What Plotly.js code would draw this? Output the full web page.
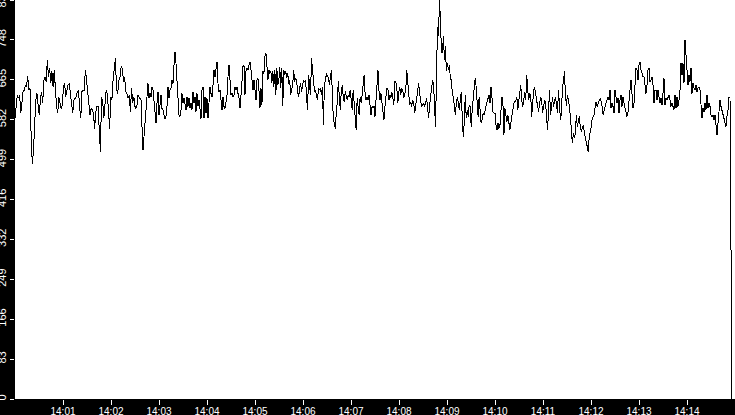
<!DOCTYPE html>
<html>
<head>
<meta charset="utf-8">
<script src="https://cdn.plot.ly/plotly-3.0.1.min.js"></script>
<style>
html,body{margin:0;padding:0;background:#000;}
#chart{width:735px;height:415px;}
#chart path.js-line{shape-rendering:crispEdges;}
</style>
</head>
<body>
<div id="chart"></div>
<script>
// Readings, in six consecutive 2.5-minute windows starting at 14:00:00
const seg1 = [585,610,634,627,634,596,623,641,644,653,651,674,644,648,547,491,516,582,623,637,617,592,623,641,617,665,672,662,706,672,690,658,683,651,686,644,610,596,630,617,606,613,651,658,630,644,655,658,634,623,596,623,627,630,641,644,610,585,641,644,644,686,665,637,610,592,606,603,596,564,599,610,610,561,516,630,620,585,627,644,637,596,564,630,623,665,690,710,648,637,665,672,693,690,662,672,641,637,627,634,599,648,617,630];
const seg2 = [610,606,613,634,630,627,623,568,519,547,575,606,641,658,627,637,630,651,644,623,592,575,617,641,592,623,634,606,603,592,585,589,610,651,627,644,648,665,658,696,724,700,662,617,592,589,603,637,617,627,613,603,630,610,627,606,617,603,641,617,630,599,637,610,623,603,585,644,651,585,630,596,627,585,630,651,637,630,655,686,672,693,703,658,641,644,623,603,630,610,606,627,634,672,696,665,634,637,630,634,651,644,651,637,627,606,627,662,693,696,634,683,690,686,696,703,686,662,644,665];
const seg3 = [648,623,665,669,644,606,648,613,683,679,714,721,696,665,686,679,683,658,683,651,686,634,690,655,662,693,648,690,610,686,676,683,669,679,658,665,634,644,655,685,662,669,662,641,630,648,658,641,658,665,662,665,630,603,676,655,634,710,683,655,641,644,634,623,648,644,648,634,651,571,658,662,679,672,669,655,672,686,637,582,575,564,599,620,662,623,603,641,655,630,620,641,630,623,634,630,644,613,603,644,610,589,561,627,603,592,630,617,634,655,676,637,623,630,623,634,613,592,610,606,610];
const seg4 = [589,623,665,686,644,623,637,617,592,582,610,630,648,648,623,634,627,641,630,613,662,662,648,617,641,651,634,648,644,627,637,644,686,665,641,613,620,610,623,617,596,610,623,641,658,637,623,610,613,617,610,623,627,610,585,610,630,644,665,658,603,568,672,776,756,832,790,724,721,756,707,735,683,700,686,696,669,665,637,630,610,592,617,630,617,603,623,641,585,547,575,634,585,603,589,613,610,568,603,623,644,669,651,617,589,630,606,575,582,596,592,603,617,620,627,634,617,651,627,599,596];
const seg5 = [596,571,561,575,564,571,596,630,617,550,606,589,578,592,578,561,575,592,603,617,620,623,630,603,623,648,655,623,610,623,641,623,676,644,623,637,634,589,627,644,650,630,623,610,599,617,630,623,596,610,623,617,582,561,603,644,592,620,630,610,623,630,613,596,644,603,582,596,651,662,683,637,610,634,623,610,589,557,533,554,544,554,592,568,578,589,568,557,564,571,557,547,540,526,516,547,557,568,585,589,592,610,620,610,617,623,627,620,610,592,603,610,617,623,630,623,644,606,617,610,596];
const seg6 = [644,630,617,627,596,623,634,610,630,617,606,592,589,599,630,644,665,637,606,617,651,690,686,665,696,703,686,679,672,672,648,637,655,686,690,662,665,672,655,617,644,644,623,644,630,617,627,613,637,669,613,627,623,627,634,623,610,617,606,603,634,606,630,610,623,644,700,676,700,658,749,703,686,655,676,662,690,637,658,648,644,655,641,648,651,644,610,585,606,599,617,603,634,606,617,610,592,589,592,582,592,571,550,575,603,623,610,603,596,585,575,568,589,603,630,627,311,0];
const segments = [seg1, seg2, seg3, seg4, seg5, seg6];
const windowSeconds = 150;        // each full window
const lastWindowSeconds = 146.25; // the final window stops early (14:14:56)

const tickMinutes = ['14:01','14:02','14:03','14:04','14:05','14:06','14:07','14:08','14:09','14:10','14:11','14:12','14:13','14:14'];
const yTickVals = [0,83.2,166.4,249.6,332.8,416,499.2,582.4,665.6,748.8,832];
const yTickText = ['0','83','166','249','332','416','499','582','665','748','832'];

const day = '2024-01-01 ';
function pad2(n){ return String(n).padStart(2,'0'); }
function stamp(sec){
  const m = Math.floor(sec/60);
  const s = sec - m*60;
  return day + '14:' + pad2(m) + ':' + s.toFixed(3).padStart(6,'0');
}

const xs = [], ys = [];
segments.forEach((seg, k) => {
  const last = k === segments.length - 1;
  const step = last ? lastWindowSeconds / (seg.length - 1) : windowSeconds / seg.length;
  seg.forEach((v, i) => {
    xs.push(stamp(k*windowSeconds + i*step));
    ys.push(v);
  });
});

const xfont = {family:'Liberation Sans, Arial, sans-serif', size:10, color:'#ffffff'};
const yfont = {family:'Liberation Sans, Arial, sans-serif', size:11, color:'#ffffff'};

Plotly.newPlot('chart', [{
  x: xs, y: ys, type:'scatter', mode:'lines',
  line:{color:'#000000', width:1}, hoverinfo:'skip'
}], {
  width:735, height:415,
  margin:{l:15, r:0, t:0, b:16, pad:0},
  paper_bgcolor:'#000000', plot_bgcolor:'#ffffff',
  showlegend:false,
  xaxis:{
    type:'date',
    range:[day+'14:00:00', day+'14:15:00'],
    tickvals: tickMinutes.map(t => day + t + ':00'),
    ticktext: tickMinutes,
    ticks:'outside', ticklen:5, tickwidth:1, tickcolor:'#ffffff',
    ticklabelstandoff:-2,
    tickfont:xfont, showgrid:false, zeroline:false, showline:false, fixedrange:true
  },
  yaxis:{
    range:[0,832],
    tickvals:yTickVals, ticktext:yTickText, tickangle:-90,
    ticklabeloverflow:'allow',
    ticks:'outside', ticklen:4, tickwidth:1, tickcolor:'#ffffff',
    tickfont:yfont, showgrid:false, zeroline:false, showline:false, fixedrange:true
  }
}, {displayModeBar:false, staticPlot:true});
</script>
</body>
</html>
